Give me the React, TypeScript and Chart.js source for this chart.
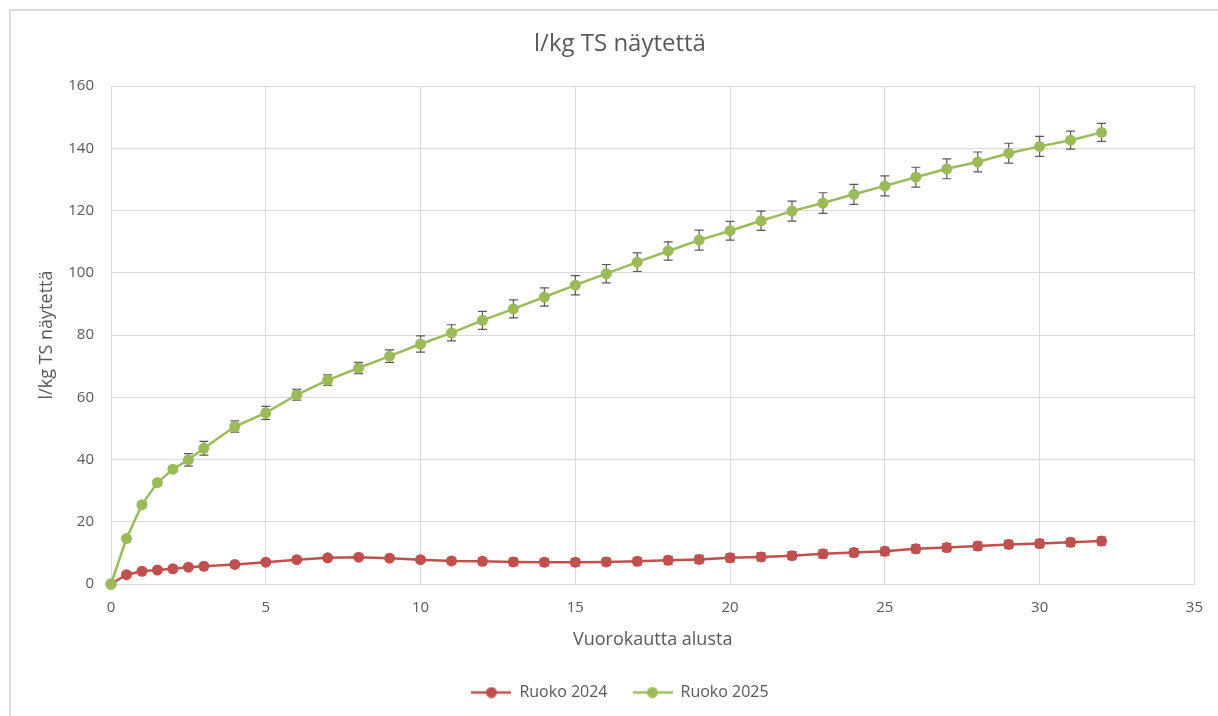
import React, { useEffect, useRef } from "react";
import { Chart, registerables } from "chart.js";

Chart.register(...registerables);

const days = [0, 0.5, 1, 1.5, 2, 2.5, 3, 4, 5, 6, 7, 8, 9, 10, 11, 12, 13, 14, 15, 16, 17, 18, 19, 20, 21, 22, 23, 24, 25, 26, 27, 28, 29, 30, 31, 32];

const ruoko2024 = [0, 3.0, 4.1, 4.5, 4.9, 5.4, 5.7, 6.3, 7.0, 7.8, 8.4, 8.6, 8.3, 7.8, 7.4, 7.3, 7.1, 7.0, 7.0, 7.1, 7.3, 7.6, 7.9, 8.4, 8.7, 9.1, 9.7, 10.1, 10.5, 11.3, 11.7, 12.2, 12.7, 13.0, 13.4, 13.8];
const err2024 = [0, 0.4, 0.4, 0.4, 0.5, 0.5, 0.5, 0.6, 0.6, 0.7, 0.7, 0.7, 0.8, 0.8, 0.9, 1.0, 1.2, 1.2, 1.2, 1.2, 1.2, 1.3, 1.3, 1.3, 1.3, 1.3, 1.3, 1.3, 1.3, 1.3, 1.3, 1.3, 1.3, 1.3, 1.3, 1.3];

const ruoko2025 = [0, 14.6, 25.5, 32.6, 36.9, 39.9, 43.6, 50.6, 55.0, 60.8, 65.5, 69.4, 73.2, 77.1, 80.7, 84.7, 88.4, 92.2, 96.0, 99.7, 103.4, 107.0, 110.5, 113.5, 116.7, 119.8, 122.4, 125.2, 127.9, 130.7, 133.4, 135.6, 138.4, 140.6, 142.6, 145.1];
const err2025 = [0, 0.8, 0.8, 0.8, 0.9, 2.0, 2.2, 1.8, 2.1, 1.7, 1.7, 1.8, 2.0, 2.6, 2.6, 2.9, 2.9, 2.95, 3.1, 2.95, 3.0, 2.95, 3.2, 3.0, 3.1, 3.2, 3.3, 3.2, 3.2, 3.2, 3.2, 3.2, 3.2, 3.2, 2.9, 2.9];

const seriesNames = ["Ruoko 2024", "Ruoko 2025"];
const chartTitle = "l/kg TS näytettä";
const xTitle = "Vuorokautta alusta";
const yTitle = "l/kg TS näytettä";

const RED = "#C0504D";
const GREEN = "#9BBB59";
const TEXT = "#595959";
const GRID = "#d9d9d9";
const FONT = "'Open Sans', sans-serif";

function legendIcon(color: string): HTMLCanvasElement {
  const c = document.createElement("canvas");
  c.width = 40;
  c.height = 12;
  const g = c.getContext("2d")!;
  g.strokeStyle = color;
  g.lineWidth = 2.5;
  g.beginPath();
  g.moveTo(0, 6);
  g.lineTo(40, 6);
  g.stroke();
  g.fillStyle = color;
  g.beginPath();
  g.arc(20, 6, 5.5, 0, Math.PI * 2);
  g.fill();
  return c;
}

const errorBarPlugin = {
  id: "errorBars",
  beforeDatasetDraw(chart: any, args: any) {
    const ds = chart.data.datasets[args.index];
    const errs: number[] = ds.errors;
    if (!errs) return;
    const ctx = chart.ctx;
    const yScale = chart.scales.y;
    ctx.save();
    ctx.strokeStyle = "#595959";
    ctx.lineWidth = 1.2;
    args.meta.data.forEach((pt: any, i: number) => {
      const e = errs[i];
      if (!e) return;
      const v = ds.data[i].y;
      const top = yScale.getPixelForValue(v + e);
      const bot = yScale.getPixelForValue(v - e);
      const x = pt.x;
      ctx.beginPath();
      ctx.moveTo(x, top);
      ctx.lineTo(x, bot);
      ctx.moveTo(x - 4.5, top);
      ctx.lineTo(x + 4.5, top);
      ctx.moveTo(x - 4.5, bot);
      ctx.lineTo(x + 4.5, bot);
      ctx.stroke();
    });
    ctx.restore();
  },
};

export default function App() {
  const ref = useRef<HTMLCanvasElement>(null);

  useEffect(() => {
    if (!ref.current) return;
    const icons = [legendIcon(RED), legendIcon(GREEN)];
    const chart = new Chart(ref.current, {
      type: "line",
      data: {
        datasets: [
          {
            label: seriesNames[0],
            data: days.map((d, i) => ({ x: d, y: ruoko2024[i] })),
            errors: err2024,
            borderColor: RED,
            backgroundColor: RED,
            pointBackgroundColor: RED,
            pointBorderColor: RED,
            borderWidth: 2.5,
            pointRadius: 5.5,
            pointBorderWidth: 0,
            clip: false,
            order: 1,
          } as any,
          {
            label: seriesNames[1],
            data: days.map((d, i) => ({ x: d, y: ruoko2025[i] })),
            errors: err2025,
            borderColor: GREEN,
            backgroundColor: GREEN,
            pointBackgroundColor: GREEN,
            pointBorderColor: GREEN,
            borderWidth: 2.5,
            pointRadius: 5.5,
            pointBorderWidth: 0,
            clip: false,
            order: 0,
          } as any,
        ],
      },
      options: {
        responsive: false,
        animation: false,
        layout: { padding: { left: 42, right: 20, top: 0, bottom: 5.5 } },
        plugins: {
          tooltip: { enabled: false },
          title: {
            display: true,
            text: chartTitle,
            color: TEXT,
            font: { family: FONT, size: 24, weight: "normal" },
            padding: { top: 30, bottom: 27.2 },
          },
          legend: {
            position: "bottom",
            labels: {
              usePointStyle: true,
              pointStyleWidth: 40,
              padding: 25,
              color: TEXT,
              font: { family: FONT, size: 16 },
              sort: (a: any, b: any) => a.datasetIndex - b.datasetIndex,
              generateLabels: (chart: any) => {
                const base = (Chart.defaults.plugins.legend.labels as any).generateLabels(chart);
                return base.map((item: any) => ({ ...item, pointStyle: icons[item.datasetIndex] }));
              },
            },
          },
        },
        scales: {
          x: {
            type: "linear",
            min: 0,
            max: 35,
            ticks: {
              stepSize: 5,
              color: TEXT,
              font: { family: FONT, size: 15 },
              padding: 15,
            },
            grid: { color: GRID, lineWidth: 1, drawTicks: false },
            border: { color: GRID, width: 1 },
            title: {
              display: true,
              text: xTitle,
              color: TEXT,
              font: { family: FONT, size: 18 },
              padding: { top: 0, bottom: 9.2 },
            },
            afterFit: (scale: any) => {
              scale.height = 75.5;
            },
          },
          y: {
            min: 0,
            max: 160,
            ticks: {
              stepSize: 20,
              color: TEXT,
              font: { family: FONT, size: 15 },
              padding: 17,
            },
            grid: { color: GRID, lineWidth: 1, drawTicks: false },
            border: { color: GRID, width: 1 },
            title: {
              display: true,
              text: yTitle,
              color: TEXT,
              font: { family: FONT, size: 18 },
              padding: { top: -6, bottom: 0 },
            },
            afterFit: (scale: any) => {
              scale.width = 69;
            },
          },
        },
      } as any,
      plugins: [errorBarPlugin],
    });
    return () => chart.destroy();
  }, []);

  return (
    <div
      style={{
        position: "absolute",
        left: 0,
        top: 0,
        width: 1218,
        height: 716,
        overflow: "hidden",
        background: "#fff",
      }}
    >
      <div
        style={{
          position: "absolute",
          left: 9,
          top: 9,
          width: 1240,
          height: 740,
          border: "2px solid #dcdcdc",
          boxSizing: "border-box",
        }}
      />
      <canvas
        ref={ref}
        width={1218}
        height={716}
        style={{ position: "absolute", left: 0, top: 0, width: 1218, height: 716 }}
      />
    </div>
  );
}
